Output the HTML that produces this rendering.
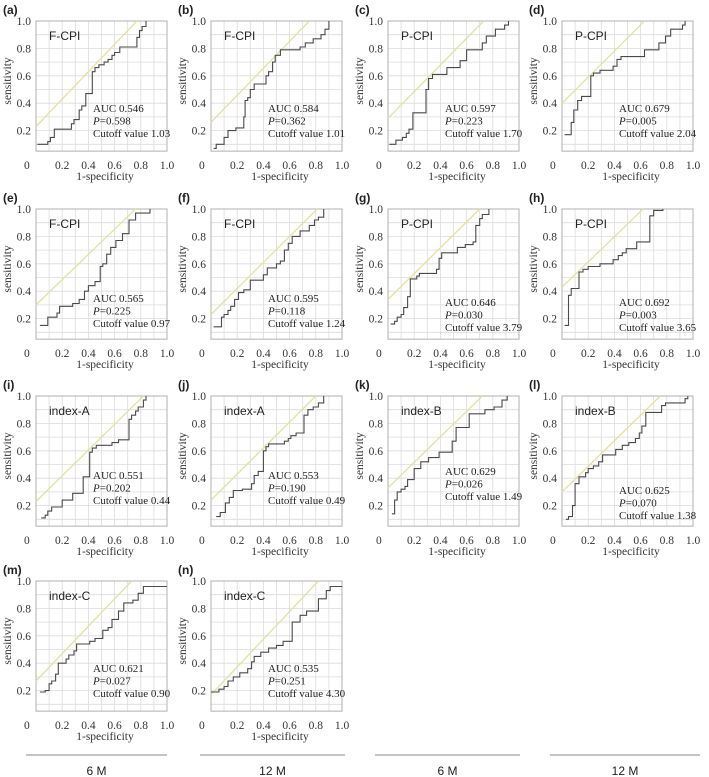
<!DOCTYPE html>
<html><head><meta charset="utf-8">
<style>
html,body{margin:0;padding:0;background:#fff;}
svg{display:block;}
.tick{font-family:"Liberation Serif",serif;font-size:11.5px;fill:#333;}
.ann{font-family:"Liberation Serif",serif;font-size:11px;fill:#222;}
.ttl{font-family:"Liberation Sans",sans-serif;font-size:12px;fill:#222;}
.plab{font-family:"Liberation Sans",sans-serif;font-size:12px;font-weight:bold;fill:#222;}
.foot{font-family:"Liberation Sans",sans-serif;font-size:12px;fill:#222;}
</style></head>
<body>
<svg id="fig" width="709" height="777" viewBox="0 0 709 777" xmlns="http://www.w3.org/2000/svg"></svg>
<script>
// ---- data ----
const letters = ['a','b','c','d','e','f','g','h','i','j','k','l','m','n'];
const titles = ['F-CPI','F-CPI','P-CPI','P-CPI','F-CPI','F-CPI','P-CPI','P-CPI','index-A','index-A','index-B','index-B','index-C','index-C'];
const aucs = ['0.546','0.584','0.597','0.679','0.565','0.595','0.646','0.692','0.551','0.553','0.629','0.625','0.621','0.535'];
const pvals = ['0.598','0.362','0.223','0.005','0.225','0.118','0.030','0.003','0.202','0.190','0.026','0.070','0.027','0.251'];
const cutoffs = ['1.03','1.01','1.70','2.04','0.97','1.24','3.79','3.65','0.44','0.49','1.49','1.38','0.90','4.30'];
const tickLabels = ['0.2','0.4','0.6','0.8','1.0'];
const tickValues = [0.2,0.4,0.6,0.8,1.0];
const diagIntercept = [0.23,0.26,0.29,0.40,0.30,0.23,0.34,0.43,0.23,0.24,0.33,0.30,0.27,0.17];
const diagTopX = [0.77,0.75,0.73,0.63,0.76,0.81,0.70,0.62,0.82,0.80,0.72,0.75,0.73,0.82];

const fpr_a=[0.01,0.09,0.11,0.14,0.27,0.29,0.33,0.35,0.38,0.43,0.45,0.48,0.52,0.55,0.58,0.60,0.64,0.77,0.79,0.81,0.84];
const tpr_a=[0.10,0.12,0.15,0.21,0.25,0.28,0.35,0.38,0.47,0.63,0.66,0.68,0.70,0.72,0.75,0.77,0.81,0.88,0.93,0.96,1.00];
const fpr_b=[0.02,0.04,0.10,0.13,0.19,0.25,0.26,0.28,0.30,0.33,0.42,0.44,0.47,0.49,0.53,0.68,0.72,0.78,0.84,0.87,0.90];
const tpr_b=[0.07,0.10,0.15,0.20,0.22,0.30,0.42,0.44,0.50,0.54,0.60,0.63,0.70,0.75,0.79,0.81,0.84,0.87,0.90,0.94,1.00];
const fpr_c=[0.01,0.06,0.11,0.14,0.16,0.19,0.29,0.31,0.34,0.45,0.55,0.60,0.72,0.75,0.82,0.89,0.92];
const tpr_c=[0.10,0.13,0.15,0.18,0.21,0.33,0.50,0.58,0.61,0.66,0.71,0.79,0.84,0.89,0.94,0.97,1.00];
const fpr_d=[0.02,0.07,0.09,0.12,0.15,0.22,0.24,0.29,0.39,0.42,0.45,0.63,0.74,0.79,0.83,0.92,0.94];
const tpr_d=[0.17,0.26,0.35,0.42,0.45,0.60,0.62,0.64,0.67,0.72,0.74,0.79,0.84,0.89,0.94,0.97,1.00];
const fpr_e=[0.03,0.09,0.16,0.18,0.28,0.33,0.37,0.40,0.45,0.49,0.51,0.54,0.57,0.61,0.66,0.71,0.76,0.87];
const tpr_e=[0.15,0.21,0.24,0.29,0.31,0.34,0.40,0.44,0.47,0.58,0.60,0.67,0.72,0.77,0.82,0.92,0.97,1.00];
const fpr_f=[0.02,0.08,0.10,0.13,0.15,0.18,0.21,0.25,0.30,0.40,0.43,0.50,0.53,0.56,0.59,0.62,0.68,0.75,0.79,0.82,0.86];
const tpr_f=[0.14,0.21,0.23,0.26,0.29,0.34,0.39,0.41,0.48,0.52,0.57,0.60,0.62,0.70,0.75,0.80,0.84,0.88,0.92,0.94,1.00];
const fpr_g=[0.02,0.05,0.07,0.10,0.12,0.15,0.17,0.22,0.24,0.37,0.39,0.41,0.53,0.59,0.65,0.67,0.70,0.72,0.77];
const tpr_g=[0.16,0.18,0.21,0.23,0.28,0.36,0.49,0.51,0.53,0.56,0.64,0.68,0.72,0.74,0.76,0.88,0.93,0.96,1.00];
const fpr_h=[0.02,0.05,0.07,0.13,0.16,0.20,0.29,0.39,0.43,0.46,0.49,0.57,0.67,0.70,0.77];
const tpr_h=[0.15,0.37,0.42,0.54,0.56,0.58,0.60,0.63,0.66,0.68,0.71,0.76,0.95,0.99,1.00];
const fpr_i=[0.04,0.07,0.09,0.12,0.20,0.28,0.36,0.41,0.43,0.46,0.58,0.63,0.71,0.73,0.76,0.78,0.82,0.84];
const tpr_i=[0.11,0.13,0.16,0.19,0.24,0.29,0.41,0.59,0.62,0.64,0.66,0.68,0.83,0.86,0.89,0.92,0.97,1.00];
const fpr_j=[0.04,0.07,0.11,0.14,0.17,0.24,0.31,0.33,0.36,0.40,0.42,0.44,0.56,0.59,0.61,0.65,0.71,0.74,0.78,0.82,0.86];
const tpr_j=[0.12,0.15,0.22,0.26,0.31,0.32,0.36,0.42,0.45,0.60,0.63,0.65,0.67,0.69,0.71,0.73,0.86,0.90,0.92,0.95,1.00];
const fpr_k=[0.03,0.05,0.07,0.10,0.13,0.15,0.20,0.25,0.31,0.39,0.49,0.52,0.62,0.74,0.81,0.87,0.91];
const tpr_k=[0.14,0.24,0.30,0.32,0.34,0.39,0.47,0.52,0.55,0.59,0.67,0.77,0.87,0.90,0.92,0.97,1.00];
const fpr_l=[0.03,0.05,0.08,0.10,0.13,0.18,0.20,0.24,0.28,0.31,0.41,0.46,0.51,0.56,0.59,0.61,0.64,0.76,0.79,0.94,0.96];
const tpr_l=[0.10,0.12,0.20,0.36,0.41,0.44,0.47,0.49,0.52,0.57,0.61,0.64,0.66,0.69,0.73,0.78,0.88,0.93,0.95,0.98,1.00];
const fpr_m=[0.03,0.07,0.10,0.12,0.15,0.17,0.23,0.25,0.29,0.31,0.41,0.45,0.51,0.55,0.58,0.63,0.67,0.74,0.78,0.82,1.00];
const tpr_m=[0.19,0.20,0.25,0.27,0.32,0.40,0.43,0.46,0.49,0.54,0.56,0.58,0.64,0.66,0.72,0.78,0.84,0.86,0.91,0.96,0.96];
const fpr_n=[0.00,0.06,0.10,0.13,0.17,0.22,0.28,0.31,0.33,0.38,0.44,0.50,0.55,0.62,0.68,0.73,0.82,0.88,0.91,0.96,1.00];
const tpr_n=[0.19,0.21,0.23,0.27,0.30,0.33,0.36,0.41,0.45,0.48,0.51,0.53,0.56,0.70,0.75,0.78,0.87,0.93,0.96,0.96,0.96];

const fprs=[fpr_a,fpr_b,fpr_c,fpr_d,fpr_e,fpr_f,fpr_g,fpr_h,fpr_i,fpr_j,fpr_k,fpr_l,fpr_m,fpr_n];
const tprs=[tpr_a,tpr_b,tpr_c,tpr_d,tpr_e,tpr_f,tpr_g,tpr_h,tpr_i,tpr_j,tpr_k,tpr_l,tpr_m,tpr_n];

// ---- layout ----
const colLeft=[36,211,388,562];
const rowTop=[21,209,396,581];
const annOff=[87,87,87,87,89,89,93,93,79,79,75,94,87,87];
const W=131, H=137;
const NS='http://www.w3.org/2000/svg';
const svg=document.getElementById('fig');
function mk(tag,attrs,parent){const e=document.createElementNS(NS,tag);for(const k in attrs)e.setAttribute(k,attrs[k]);(parent||svg).appendChild(e);return e;}
function txt(s,attrs,parent){const e=mk('text',attrs,parent);e.textContent=s;return e;}

for(let p=0;p<14;p++){
  const L=colLeft[p%4], T=rowTop[Math.floor(p/4)];
  const X=v=>L+v*W, Y=v=>T+(1-v)*H;
  const g=mk('g',{});
  
  
  const lab=txt('('+letters[p]+')',{x:L-33,y:T-7,class:'plab'},g);
  
  
  for(let i=1;i<10;i++){
    mk('line',{x1:X(i/10),x2:X(i/10),y1:Y(1),y2:Y(0.05),stroke:'#dcdcdc','stroke-width':0.8},g);
  }
  for(let i=1;i<10;i++){
    mk('line',{x1:X(0),x2:X(1),y1:Y(i/10),y2:Y(i/10),stroke:'#dcdcdc','stroke-width':0.8},g);
  }
  const box=mk('rect',{x:X(0),y:Y(1),width:W,height:Y(0.05)-Y(1),fill:'none',stroke:'#b0b0b0','stroke-width':1},g);
  
  
  const dg=mk('line',{x1:X(0),y1:Y(diagIntercept[p]),x2:X(diagTopX[p]),y2:Y(1),stroke:'#e3e39a','stroke-width':1.3},g);
  
  
  const fx=fprs[p], ty=tprs[p];
  let d='M'+X(fx[0]).toFixed(1)+' '+Y(ty[0]).toFixed(1);
  for(let i=1;i<fx.length;i++){
    d+=' L'+X(fx[i]).toFixed(1)+' '+Y(ty[i-1]).toFixed(1)+' L'+X(fx[i]).toFixed(1)+' '+Y(ty[i]).toFixed(1);
  }
  const c=mk('path',{d:d,fill:'none',stroke:'#4a4a4a','stroke-width':1.1},g);
  
  
  txt('0',{x:L-12,y:T+148,class:'tick'},g);
  for(let i=0;i<tickValues.length;i++){
    txt(tickLabels[i],{x:X(tickValues[i]),y:T+148,'text-anchor':'middle',class:'tick'},g);
    txt(tickLabels[i],{x:L-5,y:Y(tickValues[i])+4,'text-anchor':'end',class:'tick'},g);
  }
  const xt=txt('1-specificity',{x:L+69,y:T+159,'text-anchor':'middle',class:'tick'},g);
  
  
  const yt=txt('sensitivity',{x:0,y:0,'text-anchor':'middle',class:'tick',transform:'translate('+(L-25)+','+(T+60)+') rotate(-90)'},g);
  
  
  const tt=txt(titles[p],{x:L+13,y:T+19,class:'ttl'},g);
  
  
  const ay=T+annOff[p]+4;
  const a1=txt('AUC '+aucs[p],{x:L+57,y:ay,class:'ann'},g);
  
  
  const a2=mk('text',{x:L+57,y:ay+12.5,class:'ann'},g);
  
  
  const ip=mk('tspan',{'font-style':'italic'},a2);ip.textContent='P';
  const rp=mk('tspan',{},a2);rp.textContent='='+pvals[p];
  const a3=txt('Cutoff value '+cutoffs[p],{x:L+57,y:ay+25,class:'ann'},g);
  
  
}
const footX1=[26,200,375,550], footX2=[167,345,520,700];
const footLabels=['6 M','12 M','6 M','12 M'];
for(let i=0;i<4;i++){
  const ln=mk('line',{x1:footX1[i],x2:footX2[i],y1:755,y2:755,stroke:'#888','stroke-width':1});
  
  
  const t=txt(footLabels[i],{x:(footX1[i]+footX2[i])/2,y:775,'text-anchor':'middle',class:'foot'});
  
  
}
</script>
</body></html>
